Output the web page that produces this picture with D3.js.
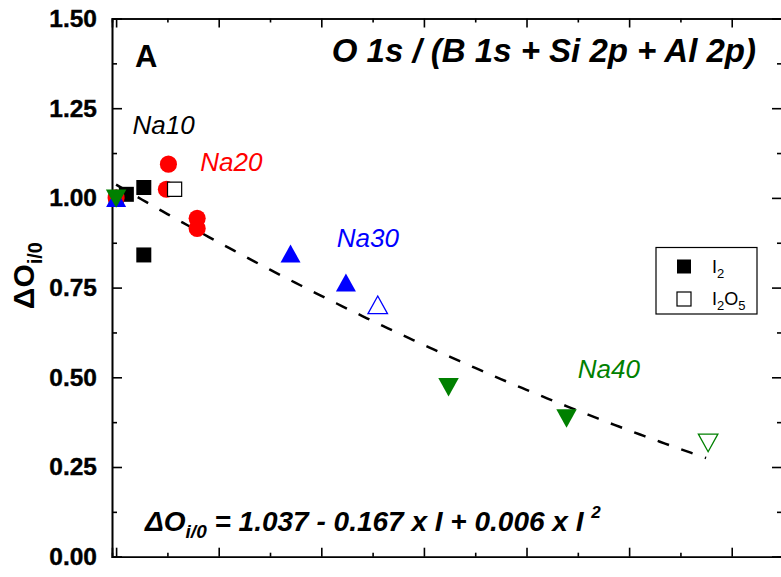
<!DOCTYPE html>
<html>
<head>
<meta charset="utf-8">
<script src="https://cdn.jsdelivr.net/npm/d3@7"></script>
<style>
  html, body { margin: 0; padding: 0; background: #fff; }
  svg { display: block; font-family: "Liberation Sans", Arial, sans-serif; }
</style>
</head>
<body>
<svg id="chart" width="781" height="577"></svg>
<script>
// ---- data ----
// x = iodine content I, y = ΔO i/0
const na10_I2   = [[0.00, 1.000], [0.10, 1.010], [0.27, 1.029], [0.27, 0.841]];
const na10_I2O5 = [[0.57, 1.024]];
const na20_I2   = [[0.00, 1.000], [0.51, 1.094], [0.49, 1.024], [0.79, 0.943], [0.79, 0.915]];
const na30_I2   = [[0.00, 1.000], [1.70, 0.845], [2.24, 0.764]];
const na30_I2O5 = [[2.55, 0.702]];
const na40_I2   = [[0.00, 0.998], [3.24, 0.472], [4.39, 0.385]];
const na40_I2O5 = [[5.77, 0.317]];

const fitCoefficients = [1.037, -0.167, 0.006];   // ΔO = a + b I + c I²
const fitRange = [0, 5.75];

const yTicks = [0, 0.25, 0.5, 0.75, 1.0, 1.25, 1.5];
const yMinorTicks = [0.125, 0.375, 0.625, 0.875, 1.125, 1.375];
const xTicks = [0, 1, 2, 3, 4, 5, 6];
const xMinorTicks = [0.5, 1.5, 2.5, 3.5, 4.5, 5.5];

const seriesLabels = [
  { text: "Na10", color: "#000000", x: 0.16, y: 1.177 },
  { text: "Na20", color: "#ff0000", x: 0.82, y: 1.075 },
  { text: "Na30", color: "#0000ff", x: 2.15, y: 0.862 },
  { text: "Na40", color: "#008000", x: 4.5,  y: 0.497 }
];

(function () {
// ---- layout ----
const svg = d3.select("#chart");
const mLeft = 112, mRight = 782, mTop = 18.5, mBottom = 556.7;
const x = d3.scaleLinear().domain([-0.04, 6.49]).range([mLeft, mRight]);
const y = d3.scaleLinear().domain([0, 1.5]).range([mBottom, mTop]);

// axes
const axStyle = g => {
  g.selectAll("path.domain").attr("stroke", "#000").attr("stroke-width", 1.6);
  g.selectAll(".tick line").attr("stroke", "#000").attr("stroke-width", 1.6);
};
svg.append("g").attr("transform", `translate(${mLeft},0)`)
  .call(d3.axisLeft(y).tickValues(yTicks).tickSize(-10).tickPadding(15).tickFormat(d3.format(".2f")))
  .call(axStyle)
  .call(g => g.selectAll("text").attr("font-size", 24.5).attr("font-weight", "bold")
      .attr("font-family", "Liberation Sans, Arial, sans-serif").attr("fill", "#000")
      .attr("stroke", "#000").attr("stroke-width", 0.4));
svg.append("g").attr("transform", `translate(${mLeft},0)`)
  .call(d3.axisLeft(y).tickValues(yMinorTicks).tickSize(-5).tickFormat(""))
  .call(axStyle);
svg.append("g").attr("transform", `translate(${mRight},0)`)
  .call(d3.axisRight(y).tickValues(yTicks).tickSize(-10).tickFormat(""))
  .call(axStyle);
svg.append("g").attr("transform", `translate(${mRight},0)`)
  .call(d3.axisRight(y).tickValues(yMinorTicks).tickSize(-5).tickFormat(""))
  .call(axStyle);
svg.append("g").attr("transform", `translate(0,${mBottom})`)
  .call(d3.axisBottom(x).tickValues(xTicks).tickSize(-9).tickFormat(""))
  .call(axStyle);
svg.append("g").attr("transform", `translate(0,${mBottom})`)
  .call(d3.axisBottom(x).tickValues(xMinorTicks).tickSize(-4).tickFormat(""))
  .call(axStyle);
svg.append("g").attr("transform", `translate(0,${mTop})`)
  .call(d3.axisTop(x).tickValues(xTicks).tickSize(-9).tickFormat(""))
  .call(axStyle);
svg.append("g").attr("transform", `translate(0,${mTop})`)
  .call(d3.axisTop(x).tickValues(xMinorTicks).tickSize(-4).tickFormat(""))
  .call(axStyle);

// y label
const yl = svg.append("text")
  .attr("transform", `translate(34,${(mTop + mBottom) / 2 - 12}) rotate(-90)`)
  .attr("text-anchor", "middle").attr("font-weight", "bold").attr("font-size", 30).attr("fill", "#000");
yl.append("tspan").text("ΔO");
yl.append("tspan").attr("font-size", 20).attr("dy", 8).text("i/0");

// fit curve
const fitFn = I => fitCoefficients[0] + fitCoefficients[1] * I + fitCoefficients[2] * I * I;
const fitPts = d3.range(fitRange[0], fitRange[1] + 1e-9, 0.05).map(I => [I, fitFn(I)]);
svg.append("path")
  .attr("d", d3.line().x(d => x(d[0])).y(d => y(d[1]))(fitPts))
  .attr("fill", "none").attr("stroke", "#000").attr("stroke-width", 2.5)
  .attr("stroke-dasharray", "12,13");

// symbol shapes (bounding-box centred)
const triUp = { draw(ctx, size) { const w = Math.sqrt(size); const h = w * 0.9;
  ctx.moveTo(0, -h / 2); ctx.lineTo(w / 2, h / 2); ctx.lineTo(-w / 2, h / 2); ctx.closePath(); } };
const triDown = { draw(ctx, size) { const w = Math.sqrt(size); const h = w * 0.9;
  ctx.moveTo(0, h / 2); ctx.lineTo(w / 2, -h / 2); ctx.lineTo(-w / 2, -h / 2); ctx.closePath(); } };

function drawPoints(data, type, size, fill, stroke, sw) {
  svg.append("g").selectAll("path").data(data).join("path")
    .attr("transform", d => `translate(${x(d[0])},${y(d[1])})`)
    .attr("d", d3.symbol().type(type).size(size))
    .attr("fill", fill).attr("stroke", stroke).attr("stroke-width", sw);
}
drawPoints(na10_I2, d3.symbolSquare, 225, "#000", "none", 0);
drawPoints(na20_I2, d3.symbolCircle, 230, "#ff0000", "none", 0);
drawPoints(na10_I2O5, d3.symbolSquare, 200, "#fff", "#000", 1.2);
drawPoints(na30_I2, triUp, 400, "#0000ff", "none", 0);
drawPoints(na30_I2O5, triUp, 380, "#fff", "#0000ff", 1.3);
drawPoints(na40_I2, triDown, 420, "#008000", "none", 0);
drawPoints(na40_I2O5, triDown, 380, "#fff", "#008000", 1.3);

// series labels
svg.append("g").selectAll("text").data(seriesLabels).join("text")
  .attr("x", d => x(d.x)).attr("y", d => y(d.y))
  .attr("font-size", 26).attr("font-style", "italic").attr("fill", d => d.color)
  .text(d => d.text);

// panel letter & title
svg.append("text").attr("x", 135).attr("y", 67).attr("font-size", 31).attr("font-weight", "bold")
  .attr("fill", "#000").text("A");
svg.append("text").attr("x", 756).attr("y", 62).attr("text-anchor", "end")
  .attr("font-size", 33).attr("font-weight", "bold").attr("font-style", "italic")
  .attr("fill", "#000").text("O 1s / (B 1s + Si 2p + Al 2p)");

// equation
const eq = svg.append("text").attr("x", 145).attr("y", 531)
  .attr("font-size", 28).attr("font-weight", "bold").attr("font-style", "italic").attr("fill", "#000");
eq.append("tspan").text("ΔO");
eq.append("tspan").attr("font-size", 19).attr("dy", 7).text("i/0");
eq.append("tspan").attr("dy", -7).text(" = 1.037 - 0.167 x I + 0.006 x I ");
eq.append("tspan").attr("font-size", 17).attr("dy", -13).text("2");

// legend
const lg = svg.append("g");
lg.append("rect").attr("x", 656).attr("y", 247.5).attr("width", 101).attr("height", 66.5)
  .attr("fill", "#fff").attr("stroke", "#000").attr("stroke-width", 1.2);
const legendItems = [
  { label: "I", sub: "2", tail: "", tailSub: "", fill: "#000", stroke: "none" },
  { label: "I", sub: "2", tail: "O", tailSub: "5", fill: "#fff", stroke: "#000" }
];
legendItems.forEach((d, i) => {
  const cy = 266.5 + i * 32.5;
  lg.append("rect").attr("x", 677).attr("y", cy - 7).attr("width", 14).attr("height", 14)
    .attr("fill", d.fill).attr("stroke", d.stroke).attr("stroke-width", 1.2);
  const t = lg.append("text").attr("x", 712).attr("y", cy + 6).attr("font-size", 18).attr("fill", "#000");
  t.append("tspan").text(d.label);
  t.append("tspan").attr("font-size", 13).attr("dy", 5).text(d.sub);
  if (d.tail) {
    t.append("tspan").attr("dy", -5).text(d.tail);
    t.append("tspan").attr("font-size", 13).attr("dy", 5).text(d.tailSub);
  }
});
})();
</script>
</body>
</html>
